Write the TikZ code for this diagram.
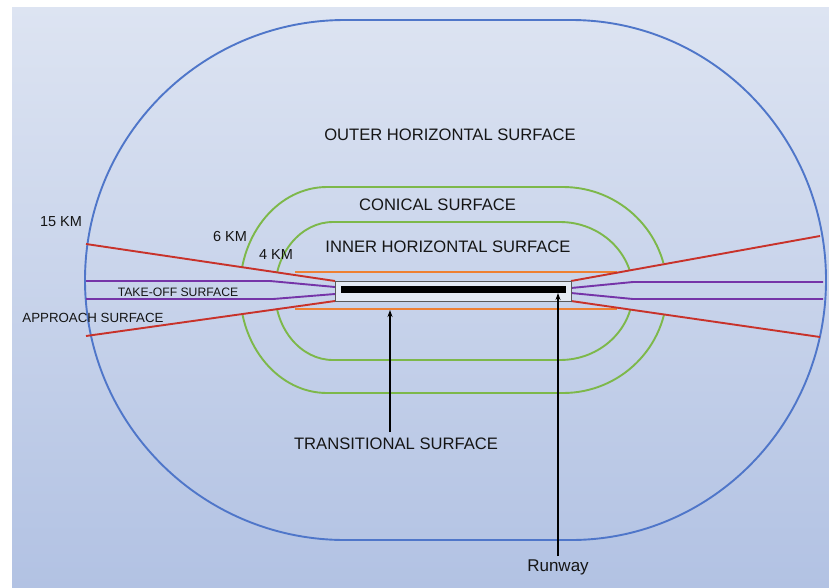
\documentclass[tikz,border=0pt]{standalone}
\usepackage{fontspec}
\setmainfont{Liberation Sans}
\usetikzlibrary{arrows.meta}
\definecolor{bgtop}{HTML}{DDE4F2}
\definecolor{bgbot}{HTML}{B2C2E3}
\definecolor{outerblue}{HTML}{4F76C9}
\definecolor{surfgreen}{HTML}{7DB84A}
\definecolor{apred}{HTML}{C8322A}
\definecolor{toviolet}{HTML}{7534A8}
\definecolor{trorange}{HTML}{EE8033}
\definecolor{boxfill}{HTML}{E4EAF4}
\definecolor{txt}{HTML}{151515}
\tikzset{
  outline/.style={outerblue, line width=1.9pt},
  greenline/.style={surfgreen, line width=1.9pt},
  redline/.style={apred, line width=1.9pt},
  violetline/.style={toviolet, line width=1.9pt},
  orangeline/.style={trorange, line width=1.9pt},
  lbl/.style={inner sep=0pt, text=txt, font=\fontsize{16.6}{20}\selectfont},
  smalllbl/.style={inner sep=0pt, text=txt, font=\fontsize{14.5}{17}\selectfont},
  arr/.style={black, line width=1.8pt, -{Stealth[length=7pt,width=5pt]}}
}
\begin{document}
\begin{tikzpicture}[x=1pt,y=-1pt]
\useasboundingbox (0,0) rectangle (829,587);
\fill[white] (0,0) rectangle (829,587);
\shade[top color=bgtop, bottom color=bgbot] (12,7) rectangle (829,587);
% outer horizontal surface (15 km)
\draw[outline] (345,20) -- (571,20) arc[start angle=-90, end angle=90, x radius=255, y radius=260]
  -- (345,540) arc[start angle=90, end angle=270, x radius=260, y radius=260] -- cycle;
% green surfaces, clipped away inside the approach wedges
\begin{scope}
\clip (0,0) -- (829,0) -- (829,587) -- (0,587) -- cycle
  (60,240) -- (60,340) -- (335,300) -- (335,281) -- cycle
  (829,231) -- (571,281) -- (571,301) -- (829,338) -- cycle;
\draw[greenline] (327,187) -- (563,187) arc[start angle=-90, end angle=90, x radius=104, y radius=103]
  -- (327,393) arc[start angle=90, end angle=270, x radius=87, y radius=103] -- cycle;
\draw[greenline] (333,222) -- (560,222) arc[start angle=-90, end angle=90, x radius=73, y radius=69]
  -- (333,360) arc[start angle=90, end angle=270, x radius=58, y radius=69] -- cycle;
\end{scope}
% runway strip and surfaces
\coordinate (boxNW) at (335,281);
\coordinate (boxSW) at (335,301);
\coordinate (boxNE) at (571,281);
\coordinate (boxSE) at (571,301);
\draw[orangeline] (295,272) -- (617,272);
\draw[orangeline] (295,309) -- (617,309);
\draw[redline] (86,244) -- (boxNW);
\draw[redline] (86,336) -- (boxSW);
\draw[redline] (820,236) -- (boxNE);
\draw[redline] (820,337) -- (boxSE);
\draw[violetline] (86,281) -- (270,281) -- (335,287);
\draw[violetline] (86,299) -- (273,299) -- (335,294);
\draw[violetline] (823,282) -- (633,282) -- (571,288);
\draw[violetline] (823,299) -- (633,299) -- (571,293);
\draw[fill=boxfill, draw=black!65, line width=1pt] (boxNW) rectangle (boxSE);
\fill[black] (341,286) rectangle (566,293);
% labels
\node[lbl] (outer) at (450,135) {OUTER HORIZONTAL SURFACE};
\node[lbl] (conical) at (437.5,205) {CONICAL SURFACE};
\node[lbl] (inner) at (448,247) {INNER HORIZONTAL SURFACE};
\node[smalllbl] (six) at (230,237) {6 KM};
\node[smalllbl] (four) at (276,255) {4 KM};
\node[smalllbl] (fifteen) at (61,222) {15 KM};
\node[inner sep=0pt, text=txt, font=\fontsize{12.2}{14}\selectfont] (takeoff) at (178,292) {TAKE-OFF SURFACE};
\node[inner sep=0pt, text=txt, font=\fontsize{13.3}{16}\selectfont] (approach) at (93,318) {APPROACH SURFACE};
\node[lbl] (trans) at (396,444) {TRANSITIONAL SURFACE};
\node[inner sep=0pt, text=txt, font=\fontsize{17}{20}\selectfont] (runway) at (558,567) {Runway};
% arrows
\coordinate (transtail) at (390,432);
\coordinate (transhead) at (390,310);
\coordinate (runtail) at (558,556);
\coordinate (runhead) at (558,293);
\draw[arr] (transtail) -- (transhead);
\draw[arr] (runtail) -- (runhead);
\end{tikzpicture}
\end{document}
